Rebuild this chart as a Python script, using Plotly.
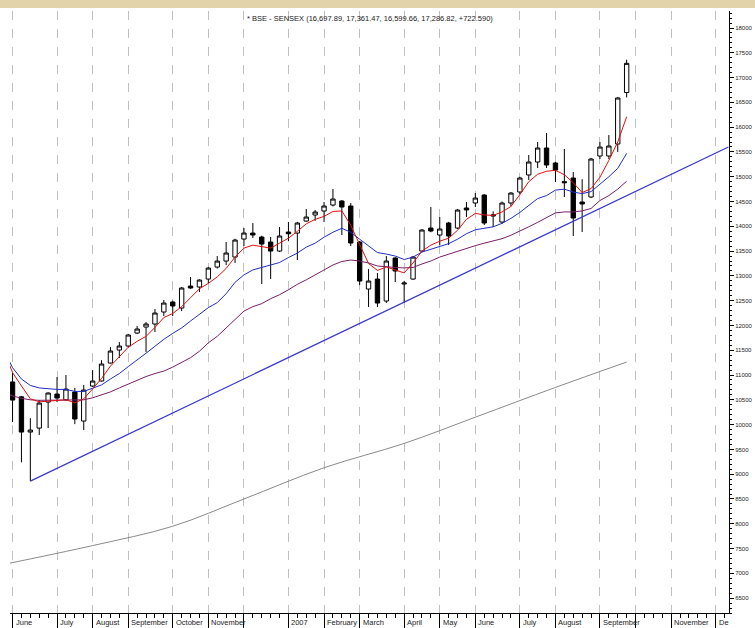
import pandas as pd
import plotly.graph_objects as go

# ---------------- data ----------------
week_start = "2006-06-02"
n_weeks = 70
opens = [10860, 10560, 9850, 9930, 10455, 10617, 10500, 10657, 10072, 10778,
         10879, 11242, 11504, 11585, 11847, 11968, 12029, 12271, 12473, 12352,
         12795, 12775, 12936, 13178, 13299, 13380, 13743, 13864, 13784, 13683,
         13501, 13884, 13864, 14106, 14228, 14308, 14429, 14510, 14409, 13683,
         12735, 12936, 12493, 13360, 12836, 12936, 13501, 13965, 13824, 14066,
         13965, 14369, 14470, 14631, 14207, 14086, 14470, 14692, 15035, 15297,
         15579, 15277, 14900, 14974, 14490, 14591, 15418, 15418, 15660, 16698]
highs = [11040, 10580, 10130, 10495, 10650, 10960, 11000, 10740, 10800, 11100,
         11300, 11565, 11665, 11830, 11990, 12070, 12331, 12513, 12500, 12775,
         12977, 12930, 13180, 13400, 13683, 13750, 13965, 14066, 13810, 13784,
         13985, 14086, 14090, 14349, 14330, 14490, 14752, 14530, 14470, 13700,
         13138, 13057, 13400, 13380, 12900, 13400, 13940, 14389, 14187, 14090,
         14350, 14490, 14671, 14650, 14300, 14500, 14690, 15000, 15438, 15700,
         15882, 15300, 15559, 15095, 14950, 15380, 15700, 15841, 16610, 17361]
lows = [10050, 9240, 8860, 9790, 9930, 10455, 10480, 10010, 9890, 10760,
        10870, 11230, 11343, 11560, 11830, 11464, 11867, 12190, 12190, 12290,
        12740, 12674, 12856, 13150, 13219, 13259, 13602, 13764, 12836, 12936,
        13480, 13700, 13320, 14090, 14110, 14086, 14400, 13824, 13602, 12815,
        12372, 12372, 12452, 12876, 12452, 12920, 13480, 13880, 13622, 13622,
        13945, 14187, 14389, 14026, 13985, 14050, 14400, 14650, 14934, 15176,
        15176, 14893, 14590, 13804, 13884, 14570, 15357, 15357, 15500, 16600]
closes = [10495, 9850, 9890, 10435, 10637, 10536, 10717, 10113, 10697, 10879,
          11222, 11484, 11585, 11807, 11928, 12029, 12251, 12452, 12392, 12755,
          12755, 12916, 13158, 13299, 13461, 13723, 13864, 13824, 13642, 13501,
          13804, 13850, 14066, 14187, 14288, 14409, 14550, 14389, 13663, 12896,
          12896, 12452, 13299, 13098, 12856, 13380, 13925, 13905, 13945, 13804,
          14328, 14330, 14570, 14066, 14227, 14470, 14671, 14974, 15297, 15579,
          15236, 15135, 14880, 14167, 14450, 15357, 15599, 15620, 16588, 17287]

# moving averages, one value per week starting one week earlier
ma_start = "2006-05-26"
red_ma = [11500, 11050, 10780, 10520, 10460, 10470, 10490, 10500, 10440, 10520, 10720,
          10930, 11180, 11380, 11560, 11680, 11780, 11960, 12160, 12240, 12380,
          12560, 12740, 12850, 12980, 13150, 13380, 13560, 13620, 13590, 13560,
          13660, 13760, 13900, 14050, 14140, 14200, 14300, 14310, 14020, 13620,
          13250, 13110, 13180, 13120, 13060, 13260, 13500, 13620, 13700, 13760,
          13920, 14140, 14260, 14230, 14220, 14290, 14400, 14640, 14900, 15050,
          15110, 15130, 15040, 14880, 14680, 14760, 14990, 15330, 15700, 16210]
blue_ma = [11500, 11150, 10920, 10790, 10740, 10720, 10710, 10710, 10670, 10670, 10730,
           10800, 10920, 11030, 11170, 11300, 11440, 11580, 11720, 11840, 11950,
           12090, 12220, 12360, 12460, 12640, 12870, 13020, 13120, 13170, 13230,
           13270, 13370, 13460, 13580, 13660, 13780, 13880, 13960, 13880, 13740,
           13600, 13470, 13440, 13400, 13330, 13380, 13480, 13540, 13590, 13650,
           13740, 13850, 13930, 13960, 13990, 14060, 14160, 14280, 14420, 14560,
           14620, 14730, 14750, 14690, 14660, 14700, 14850, 15000, 15170, 15470]
purple_ma = [10650, 10580, 10530, 10500, 10490, 10490, 10490, 10490, 10490, 10500, 10540,
             10600, 10660, 10740, 10820, 10900, 10970, 11030, 11080, 11160, 11250,
             11350, 11480, 11650, 11780, 11950, 12130, 12290, 12380, 12440, 12540,
             12620, 12720, 12830, 12920, 13020, 13120, 13220, 13290, 13320, 13300,
             13260, 13200, 13180, 13170, 13160, 13170, 13240, 13300, 13380, 13440,
             13500, 13560, 13610, 13660, 13700, 13750, 13820, 13900, 13990, 14080,
             14180, 14270, 14290, 14290, 14310, 14360, 14520, 14620, 14750, 14910]

# long-term average (grey), read at a few dates
grey_dates = ["2006-05-26", "2006-08-04", "2006-10-06", "2006-12-01", "2007-02-02",
              "2007-04-06", "2007-06-01", "2007-08-03", "2007-09-28"]
grey_ma = [7180, 7560, 7950, 8500, 9130, 9620, 10150, 10750, 11262]

# support trend line
trend_dates = ["2006-06-16", "2007-12-17"]
trend_vals = [8860, 15600]

# month ticks (first weekly bar of each month)
month_starts = ["2006-06-02", "2006-07-07", "2006-08-04", "2006-09-01", "2006-10-06",
                "2006-11-03", "2006-12-01", "2007-01-05", "2007-02-02", "2007-03-02",
                "2007-04-06", "2007-05-04", "2007-06-01", "2007-07-06", "2007-08-03",
                "2007-09-07", "2007-10-05", "2007-11-02", "2007-12-07"]
month_labels = ["June", "July", "August", "September", "October", "November", "",
                "2007", "February", "March", "April", "May", "June", "July", "August",
                "September", "", "November", "De"]

y_ticks = list(range(6500, 18001, 500))
title_text = "* BSE - SENSEX (16,697.89, 17,361.47, 16,599.66, 17,286.82, +722.590)"

# ---------------- figure ----------------
dates = pd.date_range(week_start, periods=n_weeks, freq="W-FRI")
ma_dates = pd.date_range(ma_start, periods=len(red_ma), freq="W-FRI")

fig = go.Figure()
fig.add_trace(go.Candlestick(
    x=dates, open=opens, high=highs, low=lows, close=closes,
    increasing=dict(line=dict(color="black", width=1), fillcolor="white"),
    decreasing=dict(line=dict(color="black", width=1), fillcolor="black"),
    whiskerwidth=0, showlegend=False, hoverinfo="skip"))

fig.add_trace(go.Scatter(x=grey_dates, y=grey_ma, mode="lines", line=dict(color="#8a8a8a", width=1, shape="spline"),
                         showlegend=False, hoverinfo="skip"))
fig.add_trace(go.Scatter(x=ma_dates, y=purple_ma, mode="lines", line=dict(color="#7a1f6a", width=1),
                         showlegend=False, hoverinfo="skip"))
fig.add_trace(go.Scatter(x=ma_dates, y=blue_ma, mode="lines", line=dict(color="#1f2fc8", width=1),
                         showlegend=False, hoverinfo="skip"))
fig.add_trace(go.Scatter(x=ma_dates, y=red_ma, mode="lines", line=dict(color="#e01010", width=1),
                         showlegend=False, hoverinfo="skip"))
fig.add_trace(go.Scatter(x=trend_dates, y=trend_vals, mode="lines", line=dict(color="#3a3ad0", width=1.3),
                         showlegend=False, hoverinfo="skip"))

annotations = []
for d, lab in zip(month_starts, month_labels):
    if lab:
        annotations.append(dict(x=d, y=0, xref="x", yref="paper", text=lab, showarrow=False,
                                xanchor="left", yanchor="top", xshift=1, yshift=-3,
                                font=dict(family="Arial, Liberation Sans, sans-serif", size=7.5, color="#222")))
annotations.append(dict(x=0.327, y=0.988, xref="paper", yref="paper", text=title_text, showarrow=False,
                        xanchor="left", yanchor="middle",
                        font=dict(family="Arial, Liberation Sans, sans-serif", size=7.5, color="#222")))

fig.update_layout(
    width=755, height=628,
    margin=dict(l=10, r=26, t=11, b=15, autoexpand=False),
    paper_bgcolor="white", plot_bgcolor="white",
    annotations=annotations,
    shapes=[dict(type="rect", xref="paper", yref="paper", x0=-0.02, x1=1.05, y0=1.005, y1=1.03,
                 fillcolor="#e3d3ab", line=dict(width=0), layer="above")],
    xaxis=dict(
        type="date", range=["2006-05-31", "2007-12-17 12:00"], automargin=False,
        rangeslider=dict(visible=False),
        tickmode="array", tickvals=month_starts, ticktext=[""] * len(month_starts),
        ticks="outside", ticklen=14, tickcolor="black", tickwidth=1,
        showline=True, linecolor="black", linewidth=1,
        showgrid=True, gridcolor="#c0c0c0", griddash="dash", gridwidth=1,
        minor=dict(ticks="outside", ticklen=4, tickcolor="black", dtick=7 * 86400000,
                   tick0="2006-06-02", showgrid=False),
        zeroline=False, fixedrange=True,
    ),
    yaxis=dict(
        side="right", range=[6200, 18343], automargin=False,
        tickmode="array", tickvals=y_ticks, ticktext=[str(v) for v in y_ticks],
        ticks="outside", ticklen=4, tickcolor="black",
        minor=dict(ticks="outside", ticklen=2, tickcolor="black", dtick=100, tick0=6500, showgrid=False),
        showline=True, linecolor="black", linewidth=1,
        showgrid=False, zeroline=False,
        tickfont=dict(family="Arial, Liberation Sans, sans-serif", size=6, color="#222"),
    ),
)

fig.write_html("out.html", config={"displayModeBar": False},
               post_script="document.body.style.margin='0';document.body.style.padding='0';")
